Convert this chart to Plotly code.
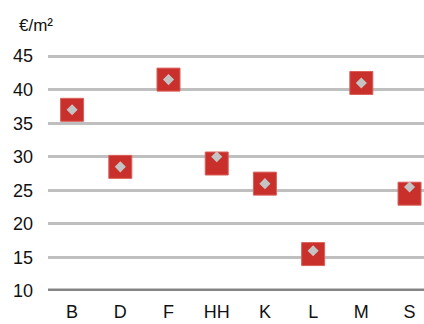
import plotly.graph_objects as go

# City codes and rent levels (€/m²)
cities = ["B", "D", "F", "HH", "K", "L", "M", "S"]
rent_red = [37.0, 28.5, 41.5, 29.0, 26.0, 15.5, 41.0, 24.5]
rent_grey = [37.0, 28.5, 41.5, 30.0, 26.0, 16.0, 41.0, 25.5]
y_ticks = [10, 15, 20, 25, 30, 35, 40, 45]

FONT = "Liberation Sans, Arial, sans-serif"

fig = go.Figure()
fig.add_trace(go.Scatter(
    x=cities, y=rent_red, mode="markers",
    marker=dict(symbol="square", size=23, color="#C9302B",
                line=dict(width=1, color="#D9605A")),
    showlegend=False, cliponaxis=False,
))
fig.add_trace(go.Scatter(
    x=cities, y=rent_grey, mode="markers",
    marker=dict(symbol="diamond", size=8.5, color="#C4C4C4", line=dict(width=0)),
    showlegend=False, cliponaxis=False,
))

fig.update_layout(
    width=424, height=324,
    margin=dict(l=48, r=0, t=36, b=33),
    paper_bgcolor="white", plot_bgcolor="white",
    font=dict(family=FONT, size=18, color="#111111"),
    title=dict(
        text="€/m²", xref="container", yref="container",
        x=19 / 424, y=1 - 31 / 324, xanchor="left", yanchor="bottom",
        font=dict(family=FONT, size=17, color="#111111"),
    ),
    xaxis=dict(
        type="category", range=[-0.5, 7.3],
        showgrid=False, showline=False, zeroline=False,
        ticks="", ticklabelstandoff=8,
        tickfont=dict(size=18),
    ),
    yaxis=dict(
        range=[10, 48], tickvals=y_ticks,
        showgrid=True, gridcolor="#BFBFBF", gridwidth=3,
        zeroline=False, showline=False,
        ticks="", ticklabelstandoff=14,
        tickfont=dict(size=18),
    ),
    shapes=[dict(
        type="line", xref="paper", yref="y", x0=0, x1=1, y0=10, y1=10,
        line=dict(color="#858585", width=5), layer="above",
    )],
)

fig.write_html("out.html")
